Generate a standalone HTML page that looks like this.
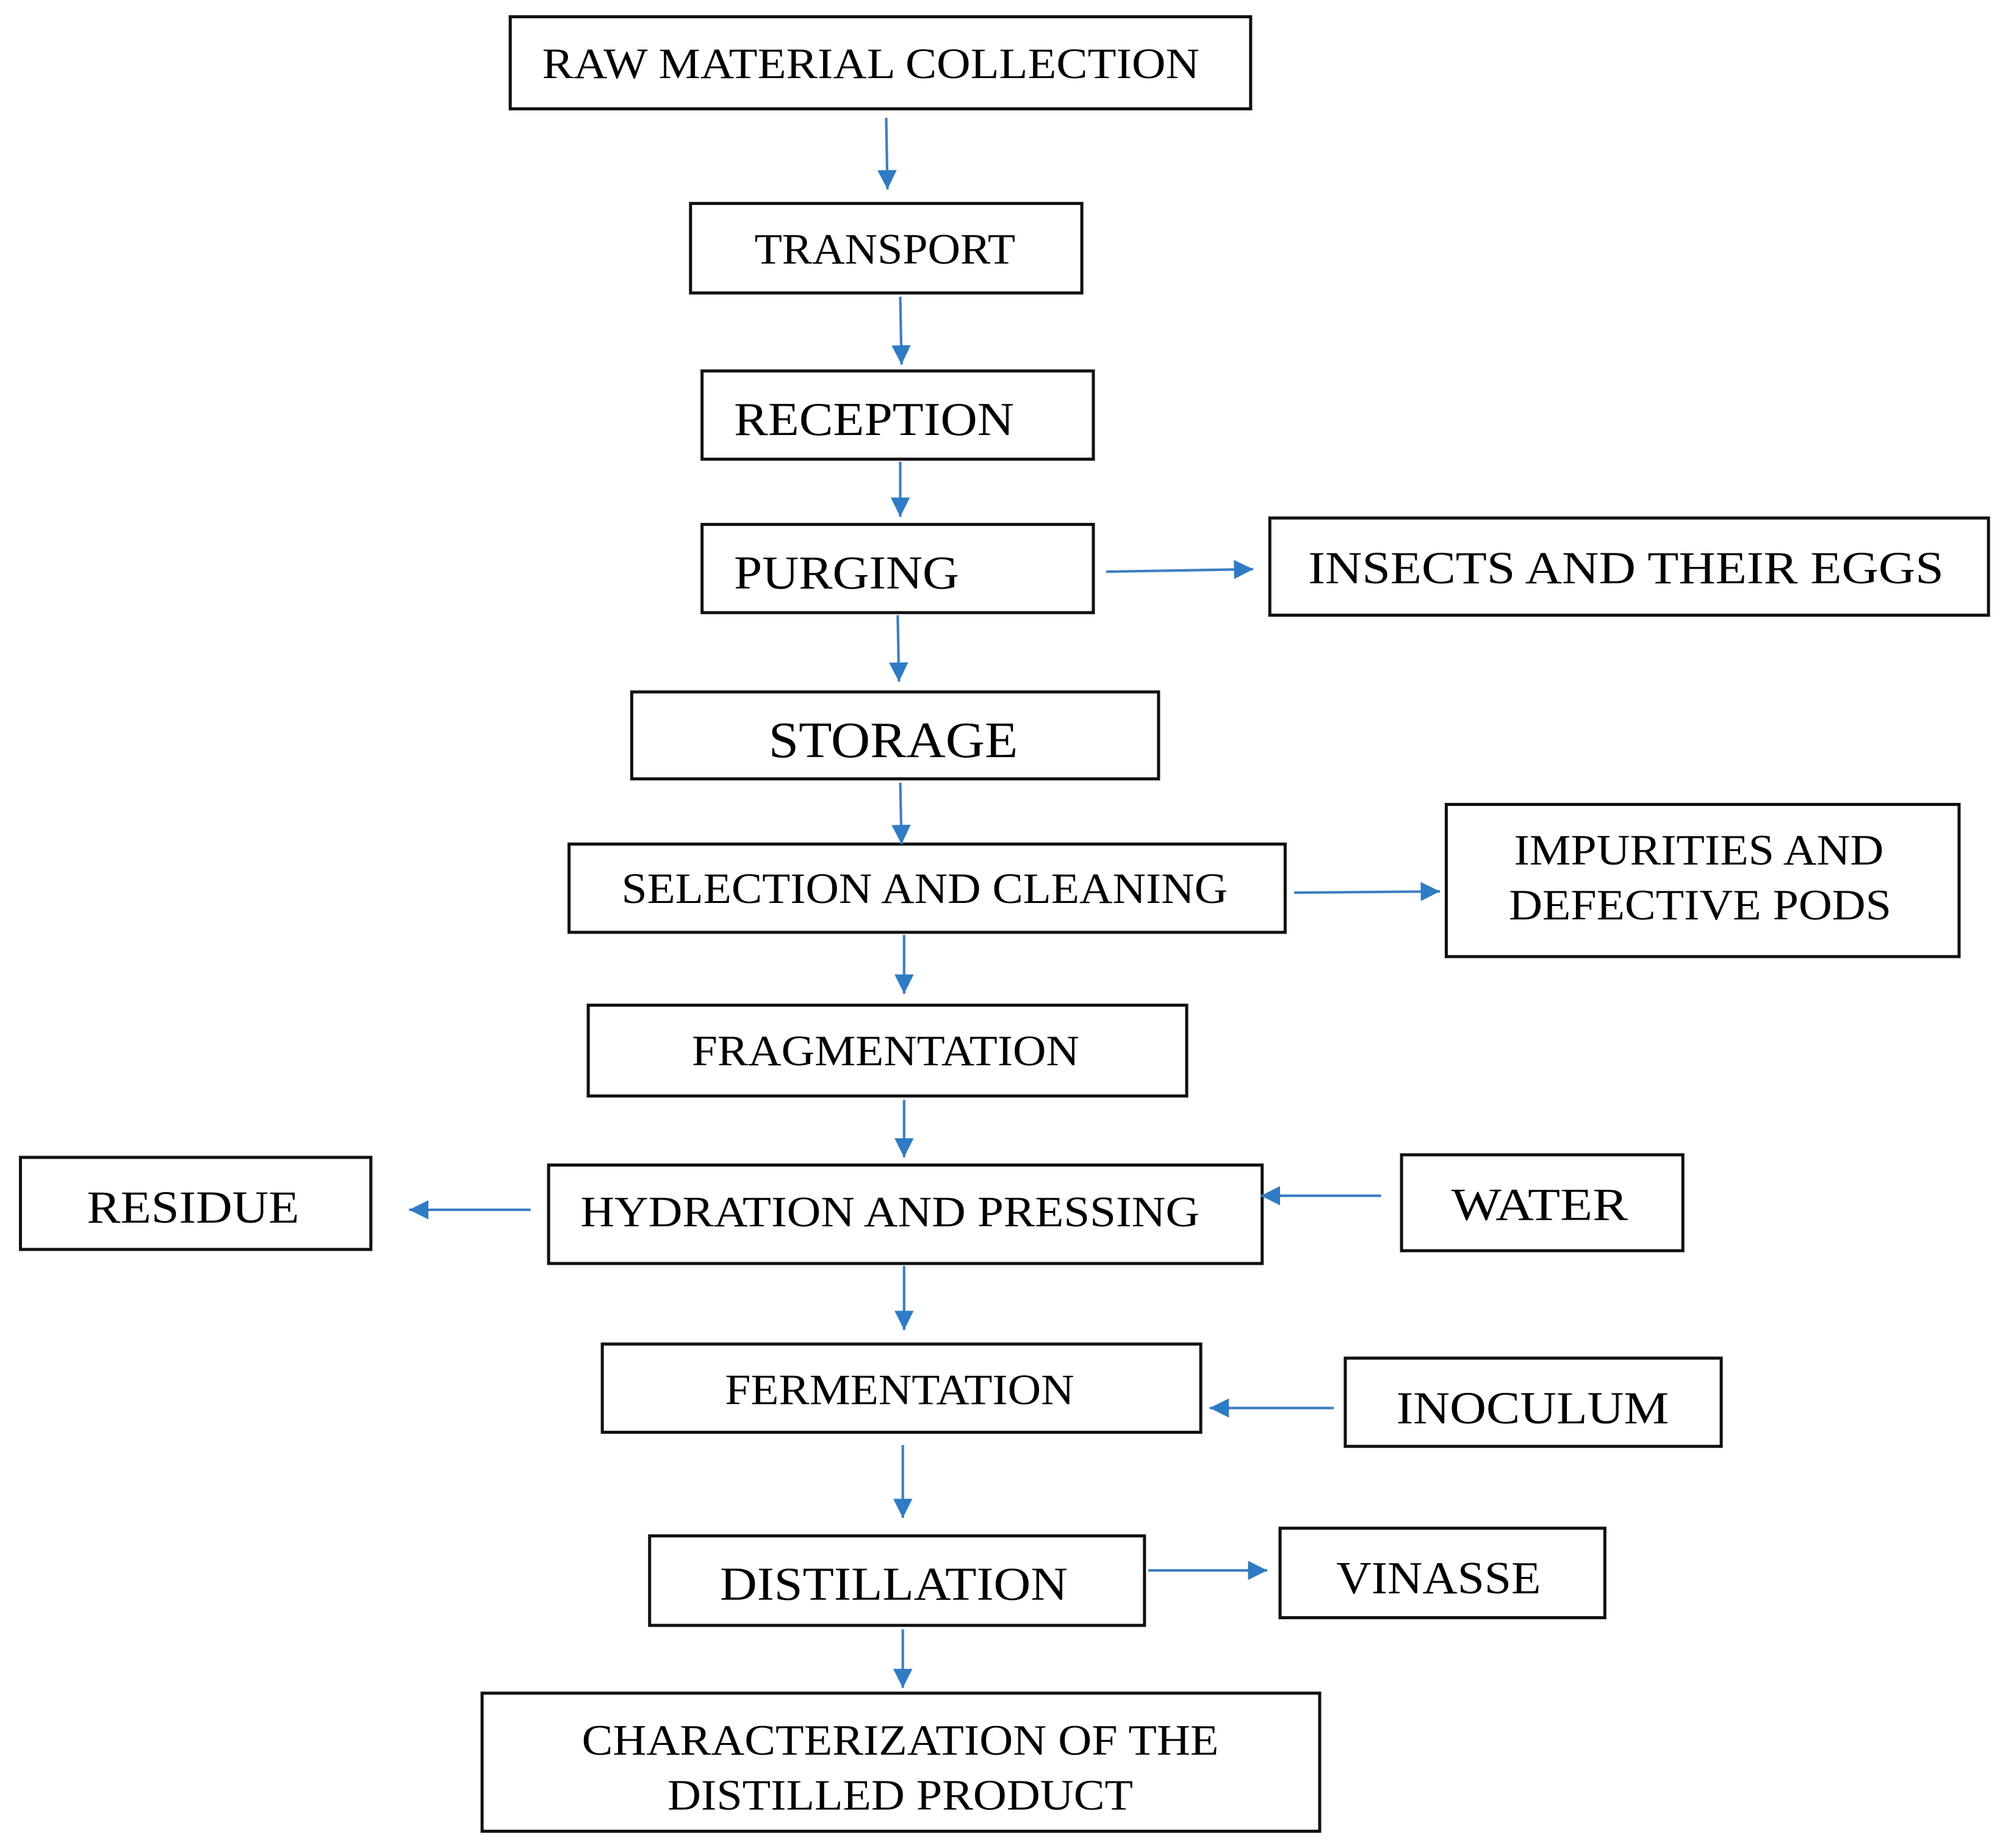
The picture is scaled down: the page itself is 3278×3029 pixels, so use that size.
<!DOCTYPE html>
<html><head><meta charset="utf-8"><style>
html,body{margin:0;padding:0;background:#fff}
svg{display:block}
text{font-family:"Liberation Serif",serif;fill:#000;font-size:34px}
rect{fill:#fff;stroke:#111;stroke-width:2.4}
line{stroke:#3d7fc0;stroke-width:2}
</style></head><body>
<svg width="3278" height="3029" viewBox="0 0 1564 1445" xmlns="http://www.w3.org/2000/svg">
<defs><marker id="b" viewBox="0 0 10 10" markerWidth="18" markerHeight="15" refX="10" refY="5" orient="auto" markerUnits="userSpaceOnUse"><path d="M0,0 L10,5 L0,10 z" fill="#2f7bc4"/></marker></defs>

<rect x="399" y="13" width="579" height="72"/>
<text x="424" y="61" textLength="514" lengthAdjust="spacingAndGlyphs">RAW MATERIAL  COLLECTION</text>
<rect x="540" y="159" width="306" height="70"/>
<text x="590" y="206" textLength="204" lengthAdjust="spacingAndGlyphs">TRANSPORT</text>
<rect x="549" y="290" width="306" height="69"/>
<text x="574" y="340" textLength="219" lengthAdjust="spacingAndGlyphs" style="font-size:37px">RECEPTION</text>
<rect x="549" y="410" width="306" height="69"/>
<text x="574" y="460" textLength="176" lengthAdjust="spacingAndGlyphs" style="font-size:37px">PURGING</text>
<rect x="993" y="405" width="562" height="76"/>
<text x="1023" y="456" textLength="497" lengthAdjust="spacingAndGlyphs" style="font-size:36px">INSECTS AND  THEIR EGGS</text>
<rect x="494" y="541" width="412" height="68"/>
<text x="601" y="592" textLength="195" lengthAdjust="spacingAndGlyphs" style="font-size:40px">STORAGE</text>
<rect x="445" y="660" width="560" height="69"/>
<text x="486" y="706" textLength="474" lengthAdjust="spacingAndGlyphs">SELECTION  AND CLEANING</text>
<rect x="1131" y="629" width="401" height="119"/>
<text x="1184" y="676" textLength="289" lengthAdjust="spacingAndGlyphs">IMPURITIES  AND</text>
<text x="1180" y="719" textLength="299" lengthAdjust="spacingAndGlyphs">DEFECTIVE  PODS</text>
<rect x="460" y="786" width="468" height="71"/>
<text x="541" y="833" textLength="303" lengthAdjust="spacingAndGlyphs">FRAGMENTATION</text>
<rect x="16" y="905" width="274" height="72"/>
<text x="68" y="956" textLength="166" lengthAdjust="spacingAndGlyphs" style="font-size:36px">RESIDUE</text>
<rect x="429" y="911" width="558" height="77"/>
<text x="454" y="959" textLength="484" lengthAdjust="spacingAndGlyphs">HYDRATION  AND PRESSING</text>
<rect x="1096" y="903" width="220" height="75"/>
<text x="1135" y="954" textLength="138" lengthAdjust="spacingAndGlyphs" style="font-size:36px">WATER</text>
<rect x="471" y="1051" width="468" height="69"/>
<text x="567" y="1098" textLength="273" lengthAdjust="spacingAndGlyphs">FERMENTATION</text>
<rect x="1052" y="1062" width="294" height="69"/>
<text x="1092" y="1113" textLength="213" lengthAdjust="spacingAndGlyphs" style="font-size:36px">INOCULUM</text>
<rect x="508" y="1201" width="387" height="70"/>
<text x="563" y="1251" textLength="272" lengthAdjust="spacingAndGlyphs" style="font-size:37px">DISTILLATION</text>
<rect x="1001" y="1195" width="254" height="70"/>
<text x="1045" y="1246" textLength="160" lengthAdjust="spacingAndGlyphs" style="font-size:36px">VINASSE</text>
<rect x="377" y="1324" width="655" height="108"/>
<text x="455" y="1372" textLength="498" lengthAdjust="spacingAndGlyphs">CHARACTERIZATION  OF THE</text>
<text x="522" y="1415" textLength="364" lengthAdjust="spacingAndGlyphs">DISTILLED  PRODUCT</text>

<g marker-end="url(#b)">
<line x1="693" y1="92" x2="694" y2="148"/>
<line x1="704" y1="232" x2="705" y2="285"/>
<line x1="704" y1="361" x2="704" y2="404"/>
<line x1="702" y1="481" x2="703" y2="533"/>
<line x1="704" y1="612" x2="705" y2="660"/>
<line x1="707" y1="731" x2="707" y2="777"/>
<line x1="707" y1="860" x2="707" y2="905"/>
<line x1="707" y1="990" x2="707" y2="1040"/>
<line x1="706" y1="1130" x2="706" y2="1187"/>
<line x1="706" y1="1274" x2="706" y2="1320"/>
<line x1="865" y1="447" x2="980" y2="445"/>
<line x1="1012" y1="698" x2="1126" y2="697"/>
<line x1="415" y1="946" x2="320" y2="946"/>
<line x1="1080" y1="935" x2="986" y2="935"/>
<line x1="1043" y1="1101" x2="946" y2="1101"/>
<line x1="898" y1="1228" x2="991" y2="1228"/>
</g>
</svg>
</body></html>
